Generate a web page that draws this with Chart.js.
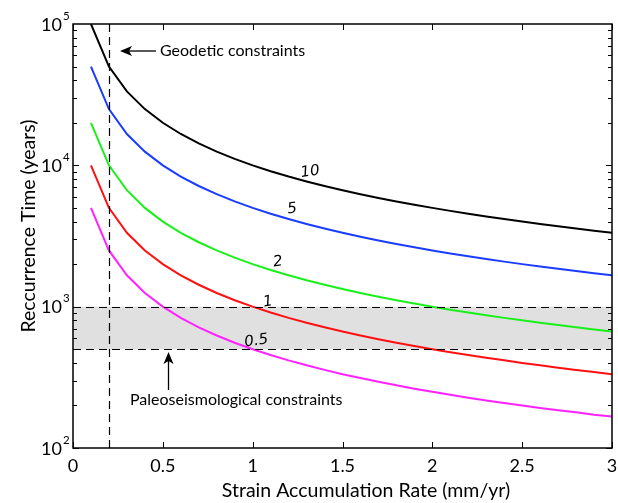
<!DOCTYPE html>
<html>
<head>
<meta charset="utf-8">
<script src="https://cdn.jsdelivr.net/npm/chart.js@4"></script>
<style>
  html, body { margin: 0; padding: 0; background: #fff; }
  canvas { display: block; }
</style>
</head>
<body>
<canvas id="chart" width="618" height="503"></canvas>
<script>
// ---------------- data
const rates = [0.1, 0.2, 0.3, 0.4, 0.5, 0.6, 0.7, 0.8, 0.9, 1.0,
               1.1, 1.2, 1.3, 1.4, 1.5, 1.6, 1.7, 1.8, 1.9, 2.0,
               2.1, 2.2, 2.3, 2.4, 2.5, 2.6, 2.7, 2.8, 2.9, 3.0];

const slip10 = [100000, 50000, 33333, 25000, 20000, 16667, 14286, 12500, 11111, 10000,
                9091, 8333, 7692, 7143, 6667, 6250, 5882, 5556, 5263, 5000,
                4762, 4545, 4348, 4167, 4000, 3846, 3704, 3571, 3448, 3333];
const slip5 = [50000, 25000, 16667, 12500, 10000, 8333, 7143, 6250, 5556, 5000,
               4545, 4167, 3846, 3571, 3333, 3125, 2941, 2778, 2632, 2500,
               2381, 2273, 2174, 2083, 2000, 1923, 1852, 1786, 1724, 1667];
const slip2 = [20000, 10000, 6667, 5000, 4000, 3333, 2857, 2500, 2222, 2000,
               1818, 1667, 1538, 1429, 1333, 1250, 1176, 1111, 1053, 1000,
               952, 909, 870, 833, 800, 769, 741, 714, 690, 667];
const slip1 = [10000, 5000, 3333, 2500, 2000, 1667, 1429, 1250, 1111, 1000,
               909, 833, 769, 714, 667, 625, 588, 556, 526, 500,
               476, 455, 435, 417, 400, 385, 370, 357, 345, 333];
const slip05 = [5000, 2500, 1667, 1250, 1000, 833, 714, 625, 556, 500,
                455, 417, 385, 357, 333, 313, 294, 278, 263, 250,
                238, 227, 217, 208, 200, 192, 185, 179, 172, 167];

const xTicks = [0, 0.5, 1, 1.5, 2, 2.5, 3];
const xTickLabels = ["0", "0.5", "1", "1.5", "2", "2.5", "3"];
const yExponents = [2, 3, 4, 5];

const geodeticRate = 0.2;
const paleoBand = [500, 1000];

const curveLabels = [
  { text: "10",  x: 1.32, y: 8980 },
  { text: "5",   x: 1.22, y: 4910 },
  { text: "2",   x: 1.14, y: 2070 },
  { text: "1",   x: 1.085, y: 1080 },
  { text: "0.5", x: 1.02, y: 571 }
];

const FONT = "Lato, 'Open Sans', sans-serif";

function toPoints(vals) {
  return rates.map((r, i) => ({ x: r, y: vals[i] }));
}

function series(vals, color) {
  return {
    data: toPoints(vals),
    borderColor: color,
    borderWidth: 2,
    pointRadius: 0,
    tension: 0,
    fill: false
  };
}

// ---------------- figure decorations (band, dashed lines, box, ticks, text)
const figurePlugin = {
  id: "figure",
  beforeDatasetsDraw(chart) {
    const { ctx, chartArea: a, scales: { y } } = chart;
    const yTop = y.getPixelForValue(paleoBand[1]);
    const yBot = y.getPixelForValue(paleoBand[0]);
    ctx.save();
    ctx.fillStyle = "#e0e0e0";
    ctx.fillRect(a.left, yTop, a.right - a.left, yBot - yTop);
    ctx.restore();
  },
  afterDatasetsDraw(chart) {
    const { ctx, chartArea: a, scales: { x, y } } = chart;
    ctx.save();

    // dashed constraint lines
    ctx.strokeStyle = "#000";
    ctx.lineWidth = 1.2;
    ctx.setLineDash([8, 5]);
    paleoBand.forEach(v => {
      const py = Math.round(y.getPixelForValue(v)) + 0.5;
      ctx.beginPath();
      ctx.moveTo(a.left, py);
      ctx.lineTo(a.right, py);
      ctx.stroke();
    });
    const gx = Math.round(x.getPixelForValue(geodeticRate)) + 0.5;
    ctx.beginPath();
    ctx.moveTo(gx, a.top);
    ctx.lineTo(gx, a.bottom);
    ctx.stroke();
    ctx.setLineDash([]);

    // axes box
    ctx.lineWidth = 1.5;
    ctx.strokeRect(a.left, a.top, a.right - a.left, a.bottom - a.top);

    // inward ticks
    ctx.lineWidth = 1;
    xTicks.forEach(v => {
      const px = Math.round(x.getPixelForValue(v)) + 0.5;
      ctx.beginPath();
      ctx.moveTo(px, a.bottom); ctx.lineTo(px, a.bottom - 6);
      ctx.moveTo(px, a.top); ctx.lineTo(px, a.top + 6);
      ctx.stroke();
    });
    for (let e = 2; e < 5; e++) {
      for (let m = 1; m <= 9; m++) {
        const py = Math.round(y.getPixelForValue(m * Math.pow(10, e))) + 0.5;
        const len = m === 1 ? 6 : 4;
        ctx.beginPath();
        ctx.moveTo(a.left, py); ctx.lineTo(a.left + len, py);
        ctx.moveTo(a.right, py); ctx.lineTo(a.right - len, py);
        ctx.stroke();
      }
    }

    // tick labels
    ctx.fillStyle = "#000";
    ctx.font = "18px " + FONT;
    ctx.textAlign = "center";
    ctx.textBaseline = "middle";
    xTicks.forEach((v, i) => {
      ctx.fillText(xTickLabels[i], x.getPixelForValue(v), a.bottom + 18);
    });
    yExponents.forEach(e => {
      const py = y.getPixelForValue(Math.pow(10, e));
      ctx.font = "18px " + FONT;
      ctx.textAlign = "right";
      ctx.fillText("10", a.left - 11, py + 1);
      ctx.font = "11.5px " + FONT;
      ctx.textAlign = "left";
      ctx.fillText(String(e), a.left - 10, py - 8);
    });

    // axis titles
    ctx.font = "19.5px " + FONT;
    ctx.textAlign = "center";
    ctx.fillText("Strain Accumulation Rate (mm/yr)", 366, a.bottom + 43);
    ctx.save();
    ctx.translate(29, 226);
    ctx.rotate(-Math.PI / 2);
    ctx.fillText("Reccurrence Time (years)", 0, 0);
    ctx.restore();

    // curve labels (slip per event, m)
    ctx.font = "oblique 15px 'DejaVu Sans', sans-serif";
    curveLabels.forEach(l => {
      ctx.save();
      ctx.translate(x.getPixelForValue(l.x), y.getPixelForValue(l.y));
      ctx.rotate(-0.14);
      ctx.fillText(l.text, 0, 0);
      ctx.restore();
    });

    // annotations
    ctx.font = "16px " + FONT;
    ctx.textAlign = "left";
    ctx.fillText("Geodetic constraints", 160, 51);
    ctx.fillText("Paleoseismological constraints", 130, 400);

    ctx.lineWidth = 1.3;
    ctx.beginPath();
    ctx.moveTo(156, 51); ctx.lineTo(126, 51);
    ctx.stroke();
    ctx.beginPath();
    ctx.moveTo(120, 51); ctx.lineTo(132, 46); ctx.lineTo(129, 51); ctx.lineTo(132, 56);
    ctx.closePath(); ctx.fill();

    ctx.beginPath();
    ctx.moveTo(168.5, 390); ctx.lineTo(168.5, 359);
    ctx.stroke();
    ctx.beginPath();
    ctx.moveTo(168.5, 352); ctx.lineTo(163.5, 364); ctx.lineTo(168.5, 361); ctx.lineTo(173.5, 364);
    ctx.closePath(); ctx.fill();

    ctx.restore();
  }
};

new Chart(document.getElementById("chart"), {
  type: "line",
  data: {
    datasets: [
      series(slip10, "#000000"),
      series(slip5, "#1a3cff"),
      series(slip2, "#19f019"),
      series(slip1, "#ff1010"),
      series(slip05, "#ff22ff")
    ]
  },
  options: {
    responsive: false,
    animation: false,
    layout: { padding: { left: 73, top: 24, right: 6, bottom: 55 } },
    plugins: { legend: { display: false }, tooltip: { enabled: false } },
    scales: {
      x: { type: "linear", min: 0, max: 3, display: false },
      y: { type: "logarithmic", min: 100, max: 100000, display: false }
    }
  },
  plugins: [figurePlugin]
});
</script>
</body>
</html>
